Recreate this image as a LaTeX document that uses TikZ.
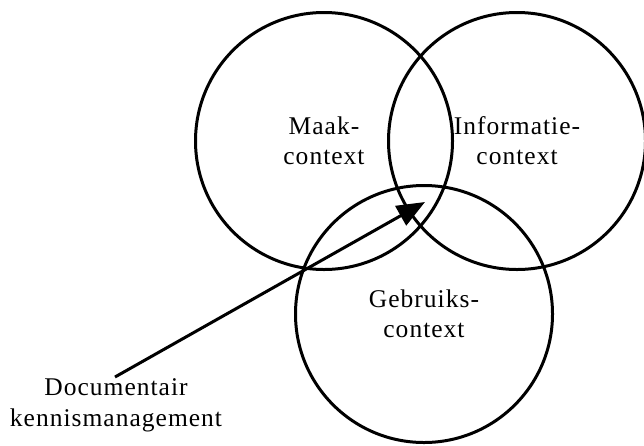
\documentclass[tikz,border=0pt]{standalone}
\usepackage{fontspec}
\setmainfont{Liberation Serif}[LetterSpace=4]
\usetikzlibrary{arrows.meta}
\begin{document}
\begin{tikzpicture}[x=1pt,y=-1pt,
  ctx/.style={circle,draw=black,line width=3pt,minimum size=257pt,inner sep=0pt,
    align=center,font=\fontsize{25.5}{30}\selectfont},
  lbl/.style={align=center,inner sep=0pt,font=\fontsize{25.5}{31}\selectfont},
  pointer/.style={line width=3pt,-{Triangle[length=28pt,width=22pt]}}]
\useasboundingbox (0,0) rectangle (644,445);
\node[ctx] (maak) at (324,141) {Maak-\\context};
\node[ctx] (info) at (517,141) {Informatie-\\context};
\node[ctx] (gebr) at (424,314) {Gebruiks-\\context};
\node[lbl] (doc) at (116,405) {Documentair\\kennismanagement};
\coordinate (docend) at (115,377);
\coordinate (tip) at (425,202);
\draw[pointer] (docend) -- (tip);
\end{tikzpicture}
\end{document}
